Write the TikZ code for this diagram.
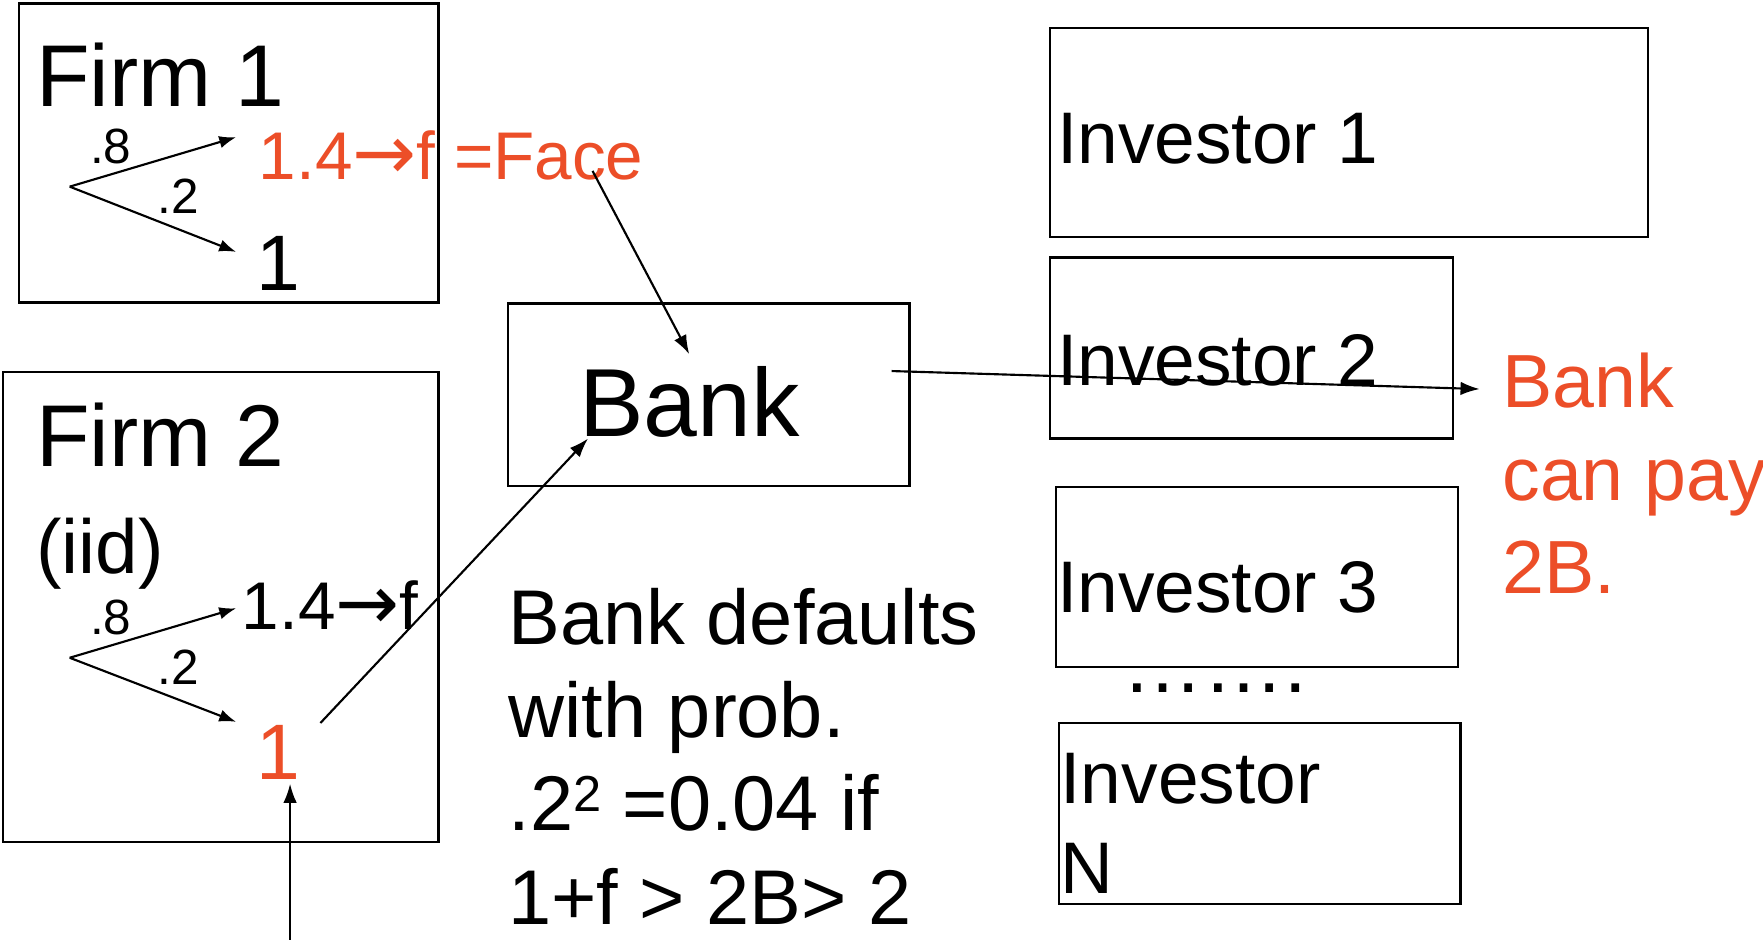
\documentclass[tikz,border=0pt]{standalone}
\usepackage{fontspec}
\setmainfont{Liberation Sans}
\newfontfamily\arrowfont{DejaVu Sans}
\usetikzlibrary{arrows.meta}
\definecolor{redtxt}{RGB}{236,78,40}
\newcommand{\fsz}[1]{\fontsize{#1}{#1}\selectfont}
\newcommand{\rarr}{{\arrowfont\fontsize{68}{68}\selectfont →}}
\newcommand{\supertwo}{\raisebox{17pt}{\fontsize{45}{45}\selectfont 2}}
\begin{document}
\begin{tikzpicture}[x=1pt,y=-1pt,
  box/.style={draw, line width=2pt, inner sep=0pt, anchor=north west},
  conn/.style={line width=1.9pt, -{Latex[length=17pt,width=12pt]}},
  tree/.style={line width=1.9pt, -{Latex[length=15pt,width=11pt]}},
  txt/.style={inner sep=0pt, anchor=base west}]
\useasboundingbox (0,0) rectangle (1568,836);

% boxes
\node[box, minimum width=373pt, minimum height=266pt] (firm1) at (16,2) {};
\node[box, minimum width=387pt, minimum height=418pt] (firm2) at (2,330) {};
\node[box, minimum width=357pt, minimum height=162pt] (bank) at (451,269) {};
\node[box, minimum width=532pt, minimum height=186pt] (inv1) at (933,24) {};
\node[box, minimum width=358pt, minimum height=161pt] (inv2) at (933,228) {};
\node[box, minimum width=358pt, minimum height=160pt] (inv3) at (938,432) {};
\node[box, minimum width=357pt, minimum height=161pt] (invN) at (941,642) {};

% Firm 1
\node[txt] (f1title) at (32,95) {\fsz{78}Firm 1};
\coordinate (r1) at (62,166);
\coordinate (t1a) at (210,122);
\coordinate (t1b) at (210,224);
\draw[tree] (r1) -- (t1a);
\draw[tree] (r1) -- (t1b);
\node[txt] (p1a) at (80,145) {\fsz{44}.8};
\node[txt] (p1b) at (140,190) {\fsz{44}.2};
\node[txt, text=redtxt] (face) at (230,160) {\fsz{60}1.4\rarr f =Face};
\node[txt] (one1) at (228,258) {\fsz{70}1};

% Firm 2
\node[txt] (f2title) at (32,415) {\fsz{78}Firm 2};
\node[txt] (iid) at (32,510) {\fsz{68}(iid)};
\coordinate (r2) at (62,585);
\coordinate (t2a) at (210,541);
\coordinate (t2b) at (210,642);
\draw[tree] (r2) -- (t2a);
\draw[tree] (r2) -- (t2b);
\node[txt] (p2a) at (80,564) {\fsz{44}.8};
\node[txt] (p2b) at (140,609) {\fsz{44}.2};
\node[txt] (f2up) at (215,560) {\fsz{60}1.4\rarr f};
\node[txt, text=redtxt] (one2) at (228,693) {\fsz{70}1};

% Bank
\node[txt] (banklbl) at (515,388) {\fsz{86}Bank};

% default text (anchor = baseline of last line)
\node[inner sep=0pt, align=left, anchor=base west, font={\fontsize{69}{83}\selectfont}] (deflt) at (452,822)
  {Bank defaults\\with prob.\\.2\supertwo{} =0.04 if\\1+f > 2B> 2};

% investors
\node[txt] (i1) at (940,145) {\fsz{65}Investor 1};
\node[txt] (i2) at (940,343) {\fsz{65}Investor 2};
\node[txt] (i3) at (940,545) {\fsz{65}Investor 3};
\node[txt] (dots) at (998,616) {\fsz{72}…….};
\node[txt] (iN1) at (943,715) {\fsz{65}Investor};
\node[txt] (iN2) at (943,795) {\fsz{65}N};

% red right text (anchor = baseline of last line)
\node[inner sep=0pt, align=left, anchor=base west, text=redtxt, font={\fontsize{67}{83}\selectfont}] (canpay) at (1336,528)
  {Bank\\can pay\\2B.};

% connectors
\coordinate (faceS) at (527,152);
\coordinate (bankN) at (613,315);
\draw[conn] (faceS) -- (bankN);
\coordinate (oneS) at (285,643);
\coordinate (bankW) at (523,390);
\draw[conn] (oneS) -- (bankW);
\coordinate (bankE) at (793,330);
\coordinate (payW) at (1316,346);
\draw[conn] (bankE) -- (payW);
\coordinate (bottomS) at (258,836);
\coordinate (oneB) at (258,697);
\draw[conn] (bottomS) -- (oneB);
\end{tikzpicture}
\end{document}
